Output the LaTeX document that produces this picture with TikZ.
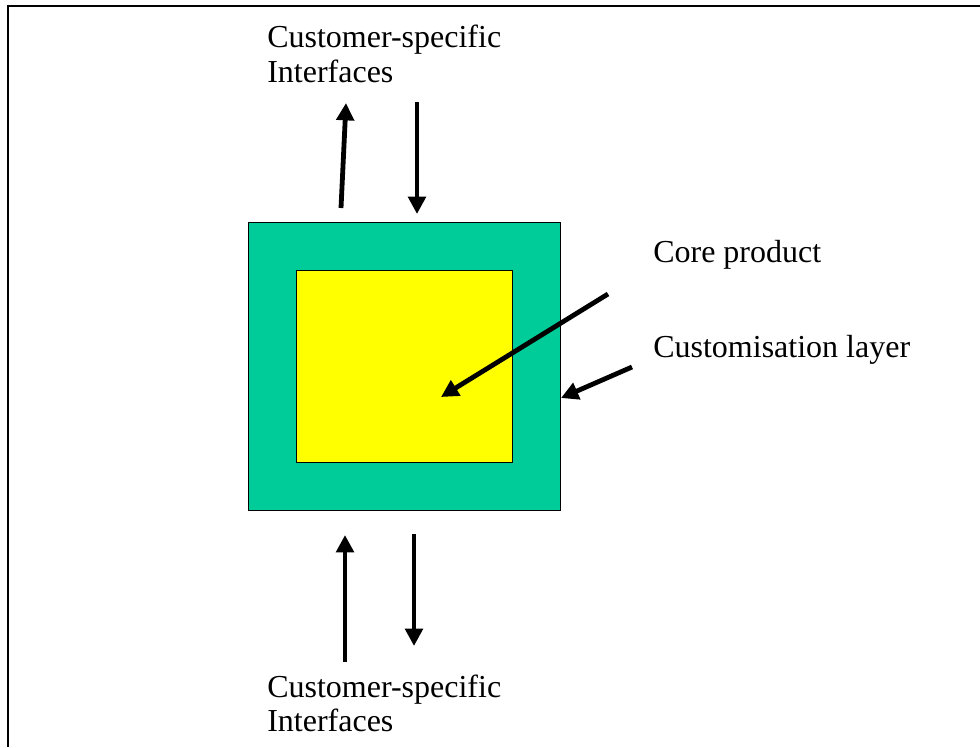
\documentclass[tikz,border=0pt]{standalone}
\usepackage{fontspec}
\setmainfont{Liberation Serif}
\usetikzlibrary{arrows.meta}
\definecolor{layergreen}{RGB}{0,204,153}
\definecolor{coreyellow}{RGB}{255,255,0}
\begin{document}
\begin{tikzpicture}[x={(0.75pt,0)},y={(0,-0.75pt)},
  lbl/.style={anchor=base west,inner sep=0pt,font=\fontsize{24}{26}\selectfont},
  fatarrow/.style={line width=3.6pt,-{Triangle[length=13pt,width=13pt]}},
  boxline/.style={draw=black,line width=1pt}]
\useasboundingbox (0,0) rectangle (980,747);
\fill[white] (0,0) rectangle (980,747);
% frame (top and left only)
\draw[line width=1.5pt] (8,747) -- (8,6) -- (980,6);
% boxes
\node[boxline,fill=layergreen,minimum width=312*0.75pt,minimum height=288*0.75pt,inner sep=0,anchor=north west] (outer) at (248,222) {};
\node[boxline,fill=coreyellow,minimum width=216*0.75pt,minimum height=192*0.75pt,inner sep=0,anchor=north west] (inner) at (296,270) {};
% labels
\node[lbl] (ttop1) at (267,47) {Customer-specific};
\node[lbl] (ttop2) at (267,82) {Interfaces};
\node[lbl] (tbot1) at (267,697) {Customer-specific};
\node[lbl] (tbot2) at (267,731) {Interfaces};
\node[lbl] (tcore) at (653,262) {Core product};
\node[lbl] (tcust) at (653,357) {Customisation layer};
% arrow end points
\coordinate (a1s) at (341,208); \coordinate (a1e) at (346,103);
\coordinate (a2s) at (417,102); \coordinate (a2e) at (417,214);
\coordinate (a3s) at (345,662); \coordinate (a3e) at (345,535);
\coordinate (a4s) at (414,534); \coordinate (a4e) at (414,646);
\coordinate (a5s) at (608,294); \coordinate (a5e) at (441,397);
\coordinate (a6s) at (632,367); \coordinate (a6e) at (561,398);
\draw[fatarrow] (a1s) -- (a1e);
\draw[fatarrow] (a2s) -- (a2e);
\draw[fatarrow] (a3s) -- (a3e);
\draw[fatarrow] (a4s) -- (a4e);
\draw[fatarrow] (a5s) -- (a5e);
\draw[fatarrow] (a6s) -- (a6e);
\end{tikzpicture}
\end{document}
